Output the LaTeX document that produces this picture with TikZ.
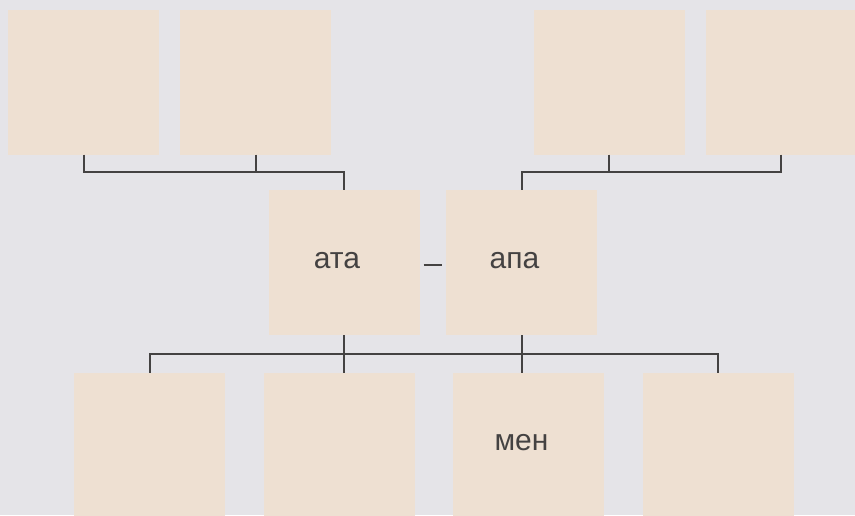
\documentclass[tikz,border=0pt]{standalone}
\usepackage{fontspec}
\setmainfont{Liberation Sans}
\usetikzlibrary{positioning}
\definecolor{pagegray}{RGB}{229,228,232}
\definecolor{boxtan}{RGB}{238,224,210}
\definecolor{inkgray}{RGB}{68,66,66}
\tikzset{
 kin/.style={fill=boxtan,inner sep=0pt,minimum width=151pt,minimum height=145pt},
 link/.style={draw=inkgray,line width=2pt},
 word/.style={text=inkgray,font=\fontsize{30}{30}\selectfont}
}

\begin{document}
\begin{tikzpicture}[x=1pt,y=1pt]
 \path[use as bounding box,clip] (0,0) rectangle (855,-515);
 \fill[pagegray] (0,0) rectangle (855,-515);
 \node[kin] (gp1) at (83.5,-82) {};
 \node[kin,right=21pt of gp1] (gp2) {};
 \node[kin] (gp3) at (609,-82) {};
 \node[kin,right=21pt of gp3] (gp4) {};
 \node[kin,label={[word,xshift=-7pt,yshift=2pt]center:ата}] (ata) at (344,-262.5) {};
 \node[kin,label={[word,xshift=-7pt,yshift=2pt]center:апа}] (apa) at (521.5,-262.5) {};
 \node[kin] (c1) at (149.5,-445.5) {};
 \node[kin] (c2) at (339,-445.5) {};
 \node[kin,label={[word,xshift=-7pt,yshift=3pt]center:мен}] (c3) at (528.5,-445.5) {};
 \node[kin] (c4) at (718,-445.5) {};
 \coordinate (lbar) at (0,-172);
 \coordinate (kbar) at (0,-354);
 \draw[link] (gp1.south) |- (lbar -| ata.north) -- (ata.north);
 \draw[link] (gp2.south) -- (gp2.south |- lbar);
 \draw[link] (gp4.south) |- (lbar -| apa.north) -- (apa.north);
 \draw[link] (gp3.south) -- (gp3.south |- lbar);
 \draw[link] ([xshift=4pt,yshift=-2pt]ata.east) -- ([xshift=-4pt,yshift=-2pt]apa.west);
 \draw[link] (c1.north) |- (kbar -| c4.north) -- (c4.north);
 \draw[link] (ata.south) -- (ata.south |- c2.north);
 \draw[link] (apa.south) -- (apa.south |- c3.north);
\end{tikzpicture}
\end{document}
